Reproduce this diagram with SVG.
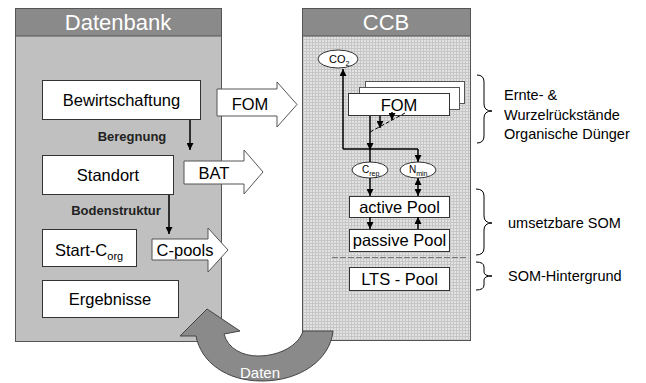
<svg xmlns="http://www.w3.org/2000/svg" width="646" height="383" viewBox="0 0 646 383">
<style>
text{font-family:"Liberation Sans",Arial,sans-serif;fill:#000}
.box{fill:#fff;stroke:#333;stroke-width:1}
.lbl{font-size:16.5px;text-anchor:middle}
.bold{font-size:13px;font-weight:bold;text-anchor:middle;fill:#222}
.head{font-size:22px;fill:#fff;text-anchor:middle}
.blk{fill:#fff;stroke:#555;stroke-width:1}
.ln{stroke:#000;stroke-width:1.5;fill:none}
.ell{fill:#fff;stroke:#333;stroke-width:1}
.side{font-size:14.5px}
.br{fill:none;stroke:#000;stroke-width:1}
</style>
<defs>
<pattern id="grid" width="3" height="3" patternUnits="userSpaceOnUse">
<rect width="3" height="3" fill="#e2e2e2"/>
<path d="M0,0.5H3M0.5,0V3" stroke="#c6c6c6" stroke-width="1"/>
</pattern>
<marker id="ah" viewBox="0 0 8 8" refX="8" refY="4" markerWidth="7" markerHeight="7" markerUnits="userSpaceOnUse" orient="auto-start-reverse">
<path d="M0,0L8,4L0,8z" fill="#000"/>
</marker>
</defs>
<rect width="646" height="383" fill="#fff"/>

<g id="panel-datenbank">
<rect x="15.5" y="8.5" width="206" height="333" fill="#c0c0c0" stroke="#555"/>
<rect x="15.5" y="8.5" width="206" height="27.5" fill="#8a8a8a" stroke="#555"/>
<text class="head" x="118" y="30">Datenbank</text>
</g>

<g id="panel-ccb">
<rect x="302.5" y="8.5" width="168" height="332" fill="url(#grid)" stroke="#555"/>
<rect x="302.5" y="8.5" width="168" height="27.5" fill="#8a8a8a" stroke="#555"/>
<text class="head" x="386" y="30">CCB</text>
</g>

<g id="daten-arrow">
<path d="M207,309 L240,331 L224,334 C228,349 243,356 258,356 C280,356 299,345 303,331 L333,331 C330,360 300,381 262,381 C226,381 201,362 196,336 L180,336 Z" fill="#8a8a8a" stroke="#444" stroke-width="1"/>
<text x="260" y="378" font-size="15" fill="#fff" text-anchor="middle" style="fill:#fff">Daten</text>
</g>

<g id="bewirtschaftung">
<rect class="box" x="42.5" y="80.5" width="158" height="39"/>
<text class="lbl" x="121.5" y="106">Bewirtschaftung</text>
</g>
<g id="standort">
<rect class="box" x="42.5" y="155.5" width="131" height="39"/>
<text class="lbl" x="108" y="181">Standort</text>
</g>
<g id="start-corg">
<rect class="box" x="42.5" y="229.5" width="94" height="37"/>
<text x="55" y="256" font-size="16.5">Start-C<tspan font-size="11" dy="4">org</tspan></text>
</g>
<g id="ergebnisse">
<rect class="box" x="42.5" y="280.5" width="136" height="37"/>
<text class="lbl" x="110" y="305">Ergebnisse</text>
</g>
<text class="bold" x="132" y="141">Beregnung</text>
<text class="bold" x="116" y="215">Bodenstruktur</text>

<g id="arrow-fom">
<polygon class="blk" points="217,89 277,89 277,82 297,104.5 277,127 277,116 217,116"/>
<text class="lbl" x="250" y="110" font-size="16">FOM</text>
</g>
<g id="arrow-bat">
<polygon class="blk" points="184,161 244,161 244,150 263,172 244,194 244,184 184,184"/>
<text class="lbl" x="214" y="179" font-size="16">BAT</text>
</g>
<g id="arrow-cpools">
<polygon class="blk" points="152,239 208,239 208,228 228,250 208,272 208,260 152,260"/>
<text class="lbl" x="185" y="256">C-pools</text>
</g>

<g id="co2">
<ellipse class="ell" cx="338" cy="59" rx="20" ry="9"/>
<text x="329" y="63" font-size="11">CO<tspan font-size="7" dy="3">2</tspan></text>
</g>
<g id="fom-stack">
<rect x="365.5" y="81.5" width="99" height="22" fill="#fff" stroke="#555"/>
<rect x="359.5" y="87.5" width="100" height="22" fill="#fff" stroke="#555"/>
<rect class="box" x="348.5" y="93.5" width="101" height="22"/>
<text class="lbl" x="399" y="111" font-size="16.5">FOM</text>
</g>
<g id="crep">
<ellipse class="ell" cx="370" cy="170" rx="18" ry="8"/>
<text x="362" y="173" font-size="10">C<tspan font-size="7" dy="3">rep</tspan></text>
</g>
<g id="nmin">
<ellipse class="ell" cx="418" cy="170" rx="18" ry="8"/>
<text x="409" y="173" font-size="10">N<tspan font-size="7" dy="3">min</tspan></text>
</g>
<g id="active-pool">
<rect class="box" x="349.5" y="196.5" width="100" height="21"/>
<text class="lbl" x="399.5" y="213" font-size="17">active Pool</text>
</g>
<g id="passive-pool">
<rect class="box" x="349.5" y="229.5" width="100" height="22"/>
<text class="lbl" x="399.5" y="246" font-size="17">passive Pool</text>
</g>
<g id="lts-pool">
<rect class="box" x="349.5" y="267.5" width="100" height="23"/>
<text class="lbl" x="399.5" y="285" font-size="17">LTS - Pool</text>
</g>

<g id="connectors">
<line class="ln" x1="190" y1="120" x2="190" y2="150" marker-end="url(#ah)"/>
<line class="ln" x1="169" y1="195" x2="169" y2="234" marker-end="url(#ah)"/>
<line class="ln" x1="343" y1="149" x2="343" y2="69" marker-end="url(#ah)"/>
<line class="ln" x1="343" y1="149" x2="418" y2="149"/>
<line class="ln" x1="418" y1="149" x2="418" y2="162" marker-end="url(#ah)"/>
<line class="ln" x1="370" y1="116" x2="370" y2="150" marker-end="url(#ah)"/>
<line class="ln" x1="370" y1="149" x2="370" y2="162"/>
<line class="ln" x1="380" y1="116" x2="380" y2="128" marker-end="url(#ah)"/>
<line x1="370" y1="132" x2="405" y2="113" stroke="#000" stroke-width="1" stroke-dasharray="4,2"/>
<line class="ln" x1="392" y1="112" x2="392" y2="120" marker-end="url(#ah)"/>
<line class="ln" x1="370" y1="178" x2="370" y2="196" marker-end="url(#ah)"/>
<line class="ln" x1="418" y1="178" x2="418" y2="196" marker-start="url(#ah)" marker-end="url(#ah)"/>
<line class="ln" x1="370" y1="217" x2="370" y2="229" marker-end="url(#ah)"/>
<line class="ln" x1="418" y1="229" x2="418" y2="217" marker-end="url(#ah)"/>
<line x1="332" y1="257.5" x2="468" y2="257.5" stroke="#777" stroke-width="1.2" stroke-dasharray="6,2"/>
</g>

<g id="bracket-fom">
<path class="br" d="M477,75 Q484,75 484,82 L484,104 Q484,111 492,111 Q484,111 484,118 L484,136 Q484,143 477,143"/>
<text class="side" x="504" y="100">Ernte- &amp;</text>
<text class="side" x="504" y="120">Wurzelrückstände</text>
<text class="side" x="504" y="139">Organische Dünger</text>
</g>
<g id="bracket-som">
<path class="br" d="M476,189 Q484,189 484,196 L484,216 Q484,223 492,223 Q484,223 484,230 L484,248 Q484,255 476,255"/>
<text class="side" x="508" y="228">umsetzbare SOM</text>
</g>
<g id="bracket-hintergrund">
<path class="br" d="M476,262 Q484,262 484,267 L484,272 Q484,276 492,276 Q484,276 484,280 L484,285 Q484,290 476,290"/>
<text class="side" x="508" y="281">SOM-Hintergrund</text>
</g>
</svg>
